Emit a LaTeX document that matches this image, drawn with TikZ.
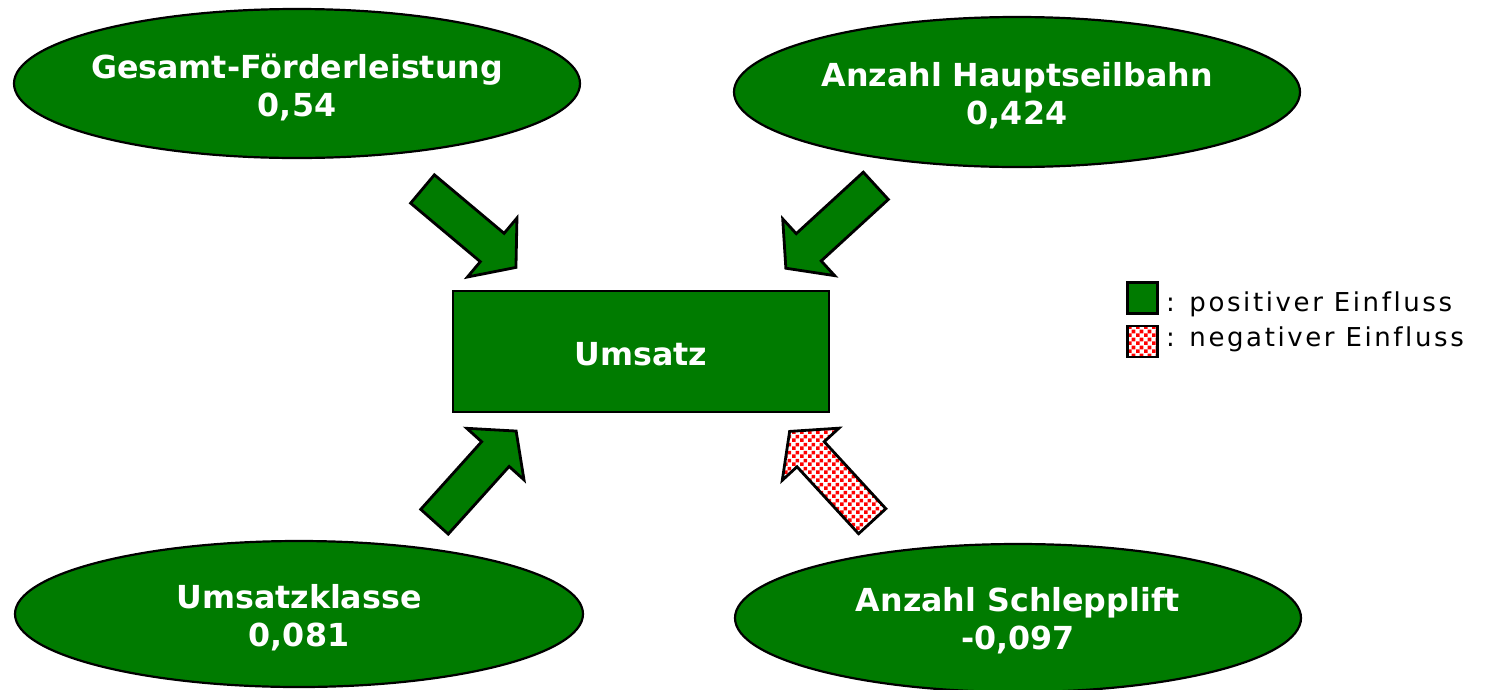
\documentclass[tikz,border=0pt]{standalone}
\usepackage{fontspec}
\setmainfont{DejaVu Sans}[Ligatures={NoCommon}]
\newfontfamily\legendfont[LetterSpace=10,Ligatures={NoCommon}]{DejaVu Sans}
\usetikzlibrary{shapes.geometric,patterns.meta}

\definecolor{factorgreen}{RGB}{0,123,0}
\definecolor{negred}{RGB}{255,0,0}

% red/white checker used for negative influences
\tikzdeclarepattern{
  name=redchecker,
  type=uncolored,
  bounding box={(0pt,0pt) and (8pt,8pt)},
  tile size={(8pt,8pt)},
  code={
    \fill (0pt,0pt) rectangle (4pt,4pt);
    \fill (4pt,4pt) rectangle (8pt,8pt);
  }
}

% block arrow: tail centre (#1,#2), direction #3 degrees, style #4
\newcommand\blockarrow[4]{%
  \begin{scope}[shift={(#1,#2)},rotate=#3]
    \draw[#4] (0pt,18.5pt) -- (91pt,18.5pt) -- (91pt,38.5pt) -- (122pt,0pt)
      -- (91pt,-38.5pt) -- (91pt,-18.5pt) -- (0pt,-18.5pt) -- cycle;
  \end{scope}}

\tikzset{
  factor/.style={ellipse, draw=black, line width=2.2pt, fill=factorgreen,
    inner sep=0pt},
  boxlabel/.style={text=white, font=\bfseries\fontsize{31.7}{38}\selectfont,
    align=center, inner sep=0pt},
  target/.style={rectangle, draw=black, line width=2.5pt, fill=factorgreen,
    minimum width=376pt, minimum height=121pt, inner sep=0pt},
  posarrow/.style={draw=black, line width=2.8pt, line join=miter, fill=factorgreen},
  negarrow/.style={draw=black, line width=2.8pt, line join=miter,
    preaction={fill=white}, pattern={redchecker}, pattern color=negred},
  legbox/.style={rectangle, draw=black, line width=2.2pt, minimum width=30pt,
    minimum height=31pt, inner sep=0pt},
  legtext/.style={anchor=base west, inner sep=0pt, text=black,
    font=\legendfont\fontsize{26}{30}\selectfont},
}

\begin{document}
\begin{tikzpicture}[x=1pt,y=-1pt]
  \useasboundingbox (0,0) rectangle (1494,689);

  % influencing factors
  \node[factor, minimum width=566pt, minimum height=149pt] (f1) at (297,83.5) {};
  \node[factor, minimum width=566pt, minimum height=150pt] (f2) at (1017,92) {};
  \node[factor, minimum width=568pt, minimum height=146pt] (f3) at (299,614) {};
  \node[factor, minimum width=566pt, minimum height=148pt] (f4) at (1018,618) {};
  \node[boxlabel] (l1) at ([yshift=-4pt]f1.center) {Gesamt-Förderleistung\\0,54};
  \node[boxlabel] (l2) at ([yshift=-4pt]f2.center) {Anzahl Hauptseilbahn\\0,424};
  \node[boxlabel] (l3) at ([yshift=-4pt]f3.center) {Umsatzklasse\\0,081};
  \node[boxlabel] (l4) at ([yshift=-3pt]f4.center) {Anzahl Schlepplift\\-0,097};

  % target variable
  \node[target] (u) at (641,351.5) {};
  \node[boxlabel] (lu) at ([yshift=-3pt]u.center) {Umsatz};

  % influence arrows
  \blockarrow{422.5}{189}{-40}{posarrow}
  \blockarrow{875.8}{185.8}{-137.5}{posarrow}
  \blockarrow{434.5}{521.7}{48}{posarrow}
  \blockarrow{872.2}{521.2}{132.6}{negarrow}

  % legend
  \node[legbox, fill=factorgreen] (lpos) at (1142.5,298) {};
  \node[legbox, preaction={fill=white}, pattern={redchecker},
    pattern color=negred] (lneg) at (1142.5,341.5) {};
  \node[legtext] (tpos) at (1166,311.5) {: positiver Einfluss};
  \node[legtext] (tneg) at (1166,346) {: negativer Einfluss};
\end{tikzpicture}
\end{document}
